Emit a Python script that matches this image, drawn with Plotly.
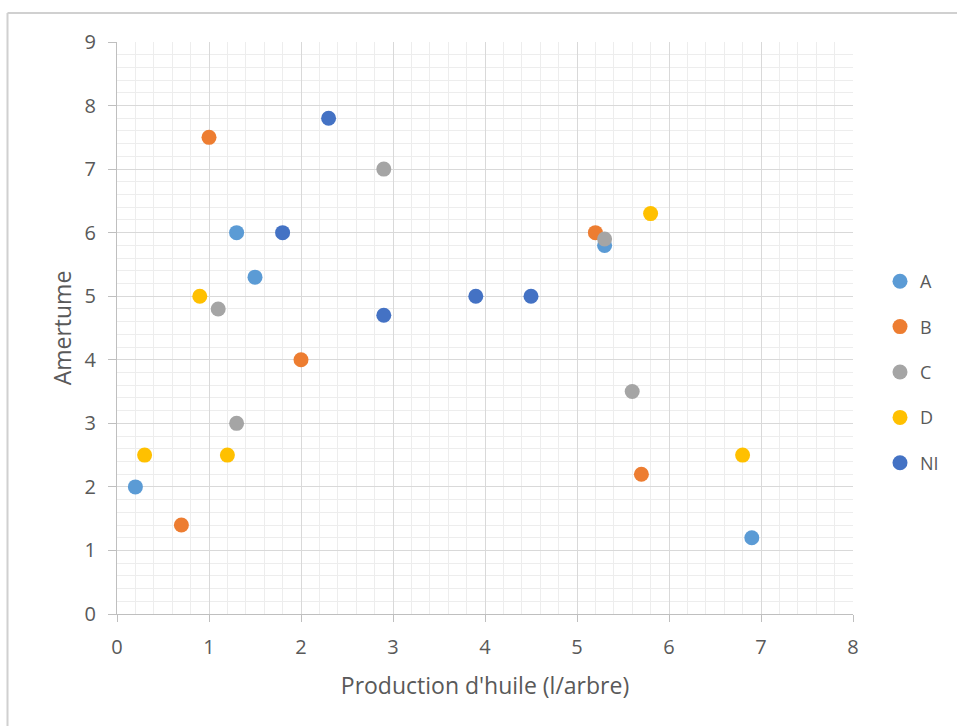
import plotly.graph_objects as go

# Data
series_names = ["A", "B", "C", "D", "NI"]
series_colors = ["#5B9BD5", "#ED7D31", "#A5A5A5", "#FFC000", "#4472C4"]

a_x = [0.2, 1.3, 1.5, 5.3, 6.9]
a_y = [2.0, 6.0, 5.3, 5.8, 1.2]
b_x = [1.0, 2.0, 0.7, 5.2, 5.7]
b_y = [7.5, 4.0, 1.4, 6.0, 2.2]
c_x = [2.9, 1.1, 1.3, 5.3, 5.6]
c_y = [7.0, 4.8, 3.0, 5.9, 3.5]
d_x = [0.9, 0.3, 1.2, 5.8, 6.8]
d_y = [5.0, 2.5, 2.5, 6.3, 2.5]
ni_x = [2.3, 1.8, 2.9, 3.9, 4.5]
ni_y = [7.8, 6.0, 4.7, 5.0, 5.0]

x_ticks = [0, 1, 2, 3, 4, 5, 6, 7, 8]
y_ticks = [0, 1, 2, 3, 4, 5, 6, 7, 8, 9]

xs = [a_x, b_x, c_x, d_x, ni_x]
ys = [a_y, b_y, c_y, d_y, ni_y]

W, H = 957, 726
L, R, T, B = 117, 853, 42, 614
FONT = "Open Sans"
TXT = "#595959"

fig = go.Figure()
for name, color, x, y in zip(series_names, series_colors, xs, ys):
    fig.add_trace(go.Scatter(
        x=x, y=y, mode="markers", name=name, legendgroup=name,
        marker=dict(size=15, color=color, line=dict(width=0)),
    ))

def px_x(p):
    return (p - L) / (R - L)

def px_y(p):
    return (B - p) / (B - T)

shapes = [
    dict(type="line", xref="paper", yref="paper",
         x0=px_x(7.5), x1=px_x(960), y0=px_y(13), y1=px_y(13),
         line=dict(color="#D0D0D0", width=2)),
    dict(type="line", xref="paper", yref="paper",
         x0=px_x(7.5), x1=px_x(7.5), y0=px_y(13), y1=px_y(730),
         line=dict(color="#D0D0D0", width=2)),
]

fig.update_layout(
    width=W, height=H,
    margin=dict(l=L, r=W - R, t=T, b=H - B),
    paper_bgcolor="white", plot_bgcolor="white",
    font=dict(family=FONT, color=TXT, size=18),
    shapes=shapes,
    legend=dict(
        x=px_x(880), xanchor="left", y=px_y(372), yanchor="middle",
        font=dict(size=18, color=TXT), tracegroupgap=19,
        itemwidth=30, bgcolor="rgba(0,0,0,0)", borderwidth=0,
    ),
    xaxis=dict(
        range=[0, 8], tickvals=x_ticks, ticktext=[str(v) for v in x_ticks],
        showgrid=True, gridcolor="#D9D9D9", gridwidth=1,
        minor=dict(dtick=0.2, showgrid=True, gridcolor="#EDEDED", gridwidth=1),
        showline=True, linecolor="#BFBFBF", linewidth=1,
        ticks="outside", ticklen=7, tickcolor="#BFBFBF",
        ticklabelstandoff=8,
        zeroline=False, tickfont=dict(size=20, color=TXT),
        title=dict(text="Production d'huile (l/arbre)", font=dict(size=23, color=TXT), standoff=18),
        fixedrange=True,
    ),
    yaxis=dict(
        range=[0, 9], tickvals=y_ticks, ticktext=[str(v) for v in y_ticks],
        showgrid=True, gridcolor="#D9D9D9", gridwidth=1,
        minor=dict(dtick=0.2, showgrid=True, gridcolor="#EDEDED", gridwidth=1),
        showline=True, linecolor="#BFBFBF", linewidth=1,
        ticks="outside", ticklen=8, tickcolor="#BFBFBF",
        ticklabelstandoff=8,
        zeroline=False, tickfont=dict(size=20, color=TXT),
        title=dict(text="Amertume", font=dict(size=23, color=TXT), standoff=6),
        fixedrange=True,
    ),
)

fig.write_html(
    "out.html",
    config={"displayModeBar": False},
    post_script="document.body.style.margin='0';document.body.style.overflow='hidden';",
)
